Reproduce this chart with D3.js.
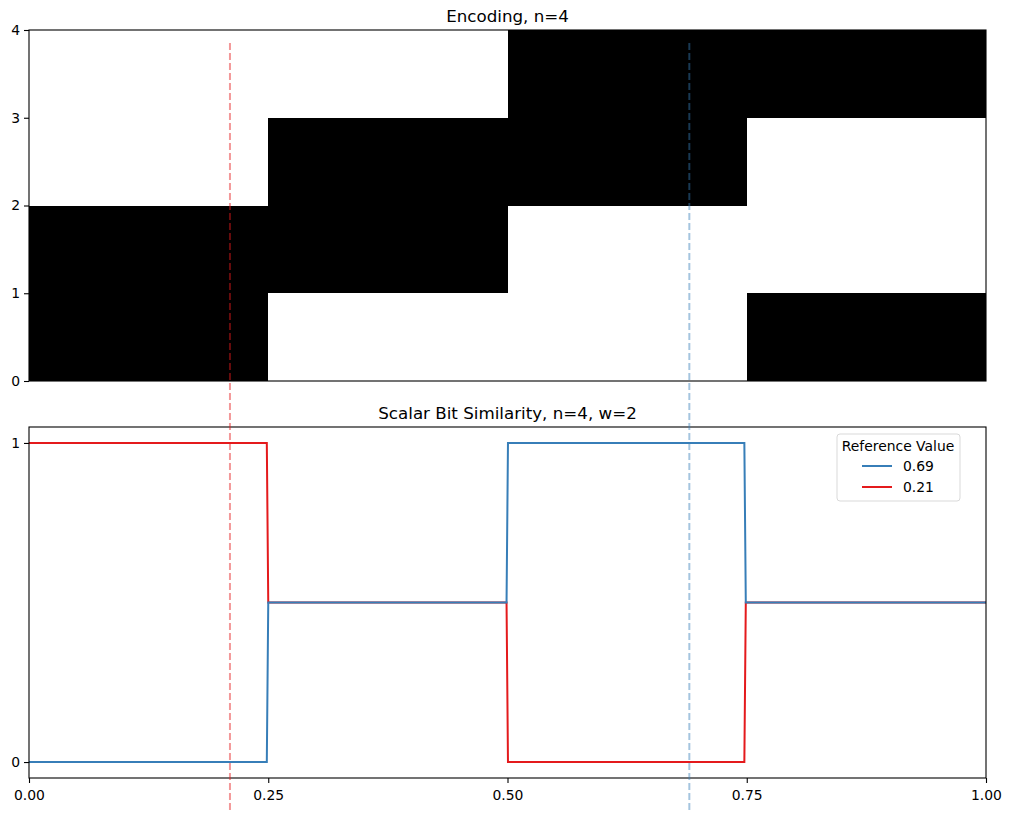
<!DOCTYPE html>
<html>
<head>
<meta charset="utf-8">
<script src="https://cdn.jsdelivr.net/npm/d3@7"></script>
<style>
  html, body { margin: 0; padding: 0; background: #fff; }
  svg { display: block; font-family: "DejaVu Sans", sans-serif; }
</style>
</head>
<body>
<svg id="chart" width="1011" height="823"></svg>
<script>
// ---- data ----
const topTitle = "Encoding, n=4";
const bottomTitle = "Scalar Bit Similarity, n=4, w=2";
// encoding bits: one array per x-bucket (0-0.25, 0.25-0.5, 0.5-0.75, 0.75-1), bits for rows 0..3
const bucketStarts = [0, 0.25, 0.5, 0.75];
const encodingBits = [
  [1, 1, 0, 0],
  [0, 1, 1, 0],
  [0, 0, 1, 1],
  [1, 0, 0, 1]
];
const topYTicks = [0, 1, 2, 3, 4];
const bottomYTicks = [0, 1];
const xTicks = [0, 0.25, 0.5, 0.75, 1.0];
const xTickLabels = ["0.00", "0.25", "0.50", "0.75", "1.00"];

// similarity curves (sampled)
const sampleX   = [0, 0.2485, 0.2500, 0.4990, 0.5005, 0.7475, 0.7490, 1.0];
const sim069    = [0, 0,      0.5,    0.5,    1,      1,      0.5,    0.5];
const sim021    = [1, 1,      0.5,    0.5,    0,      0,      0.5,    0.5];
const legendTitle = "Reference Value";
const seriesNames = ["0.69", "0.21"];
const refValues = [0.69, 0.21];
const seriesColors = ["#377eb8", "#e41a1c"];

// ---- layout ----
const L = 29, R = 986;
const topPanel = { t: 30, b: 381 };
const botPanel = { t: 427, b: 778 };
const tickFont = 13.9, titleFont = 16.7;

const svg = d3.select("#chart");
const x = d3.scaleLinear().domain([0, 1]).range([L, R]);
const yTop = d3.scaleLinear().domain([0, 4]).range([topPanel.b, topPanel.t]);
const yBot = d3.scaleLinear().domain([-0.05, 1.05]).range([botPanel.b, botPanel.t]);

// ---- top panel: encoding image ----
const gTop = svg.append("g");
const cells = [];
encodingBits.forEach((bits, i) => {
  bits.forEach((b, r) => {
    cells.push({ x0: bucketStarts[i], x1: bucketStarts[i] + 0.25, row: r, on: b });
  });
});
gTop.selectAll("rect.cell").data(cells).enter().append("rect")
  .attr("class", "cell")
  .attr("x", d => x(d.x0))
  .attr("width", d => x(d.x1) - x(d.x0))
  .attr("y", d => yTop(d.row + 1))
  .attr("height", d => yTop(d.row) - yTop(d.row + 1))
  .attr("fill", d => d.on ? "#000" : "#fff")
  .attr("shape-rendering", "crispEdges");

const yAxisTop = d3.axisLeft(yTop).tickValues(topYTicks).tickFormat(d3.format("d")).tickSize(5).tickPadding(4);
const gyt = gTop.append("g").attr("transform", `translate(${L},0)`).call(yAxisTop);
gyt.select(".domain").remove();
gTop.append("rect").attr("x", L).attr("y", topPanel.t).attr("width", R - L).attr("height", topPanel.b - topPanel.t)
  .attr("fill", "none").attr("stroke", "#000").attr("stroke-width", 1.1);
gTop.append("text").attr("x", (L + R) / 2).attr("y", topPanel.t - 8)
  .attr("text-anchor", "middle").attr("font-size", titleFont).text(topTitle);

// ---- bottom panel: similarity ----
const gBot = svg.append("g");
const line = d3.line().x(d => x(d[0])).y(d => yBot(d[1]));
const series = [sim069, sim021];
// draw red first, blue on top
[1, 0].forEach(k => {
  gBot.append("path")
    .datum(sampleX.map((xv, i) => [xv, series[k][i]]))
    .attr("d", line)
    .attr("fill", "none")
    .attr("stroke", seriesColors[k])
    .attr("stroke-width", 2);
});

const yAxisBot = d3.axisLeft(yBot).tickValues(bottomYTicks).tickFormat(d3.format("d")).tickSize(5).tickPadding(4);
const gyb = gBot.append("g").attr("transform", `translate(${L},0)`).call(yAxisBot);
gyb.select(".domain").remove();
const xAxis = d3.axisBottom(x).tickValues(xTicks).tickFormat((d, i) => xTickLabels[i]).tickSize(5).tickPadding(7);
const gx = gBot.append("g").attr("transform", `translate(0,${botPanel.b})`).call(xAxis);
gx.select(".domain").remove();
gBot.append("rect").attr("x", L).attr("y", botPanel.t).attr("width", R - L).attr("height", botPanel.b - botPanel.t)
  .attr("fill", "none").attr("stroke", "#000").attr("stroke-width", 1.1);
gBot.append("text").attr("x", (L + R) / 2).attr("y", botPanel.t - 8)
  .attr("text-anchor", "middle").attr("font-size", titleFont).text(bottomTitle);

svg.selectAll(".tick text").attr("font-size", tickFont).attr("fill", "#000").attr("font-family", "DejaVu Sans, sans-serif");
svg.selectAll(".tick line").attr("stroke", "#000").attr("stroke-width", 1.1);

// legend
const lg = gBot.append("g");
lg.append("rect").attr("x", 837).attr("y", 434).attr("width", 123).attr("height", 67).attr("rx", 3)
  .attr("fill", "#fff").attr("fill-opacity", 0.8).attr("stroke", "#d9d9d9").attr("stroke-width", 1);
lg.append("text").attr("x", 898).attr("y", 451).attr("text-anchor", "middle").attr("font-size", tickFont).text(legendTitle);
seriesNames.forEach((name, i) => {
  const yy = 466 + i * 21;
  lg.append("line").attr("x1", 862).attr("x2", 892).attr("y1", yy).attr("y2", yy)
    .attr("stroke", seriesColors[i]).attr("stroke-width", 2);
  lg.append("text").attr("x", 903).attr("y", yy + 5).attr("font-size", tickFont).text(name);
});

// figure-spanning dashed reference lines
const refG = svg.append("g");
refValues.forEach((v, i) => {
  refG.append("line")
    .attr("x1", x(v)).attr("x2", x(v))
    .attr("y1", 43).attr("y2", 812)
    .attr("stroke", seriesColors[i])
    .attr("stroke-opacity", 0.45)
    .attr("stroke-width", 2)
    .attr("stroke-dasharray", "7,3");
});
</script>
</body>
</html>
